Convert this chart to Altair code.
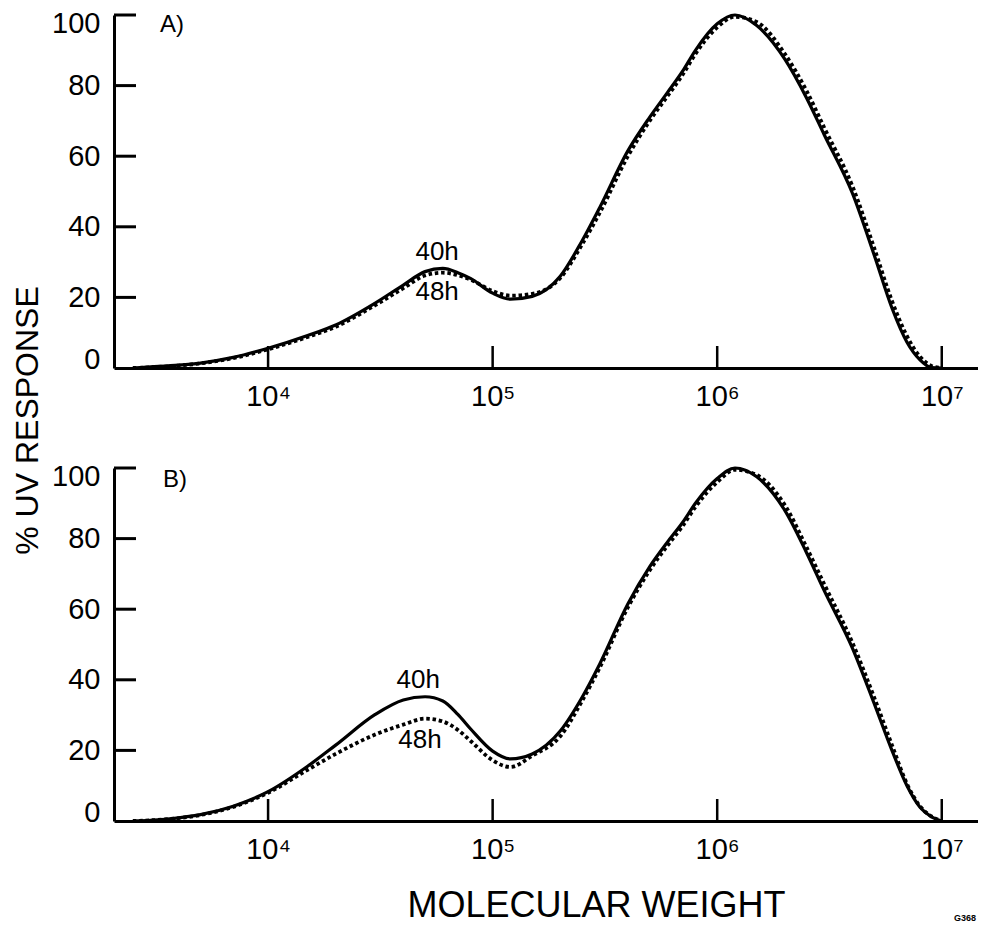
import altair as alt
import pandas as pd

# ---------------- data ----------------
MW = [2500, 3000, 4000, 5000, 7000, 1e4, 1.5e4, 2e4, 3e4, 4e4, 5e4, 6e4, 7e4, 8e4,
      1e5, 1.2e5, 1.5e5, 2e5, 2.5e5, 3e5, 4e5, 5e5, 6e5, 7e5, 8e5,
      1e6, 1.2e6, 1.5e6, 2e6, 2.5e6, 3e6, 4e6, 5e6, 6e6, 7e6, 8e6, 9e6, 1e7]

A_40H = [0, 0.3, 0.8, 1.4, 3.0, 5.6, 9.2, 12.2, 18.4, 23.5, 27.3, 28.2, 27.0, 25.3,
         21.2, 19.5, 20.3, 26.0, 36.0, 45.5, 61.5, 71.0, 78.0, 84.0, 90.0,
         97.5, 100.0, 97.0, 87.5, 76.5, 66.0, 49.5, 32.0, 17.0, 7.3, 2.3, 0.1, 0]
A_48H = [0, 0.2, 0.7, 1.3, 2.8, 5.3, 8.8, 11.7, 17.8, 22.6, 26.2, 27.0, 26.3, 25.0,
         21.8, 20.5, 21.0, 25.5, 35.0, 44.0, 60.0, 70.0, 77.0, 83.0, 89.0,
         96.5, 99.5, 98.0, 89.0, 78.5, 68.0, 51.5, 34.0, 19.0, 9.0, 3.2, 0.6, 0]
B_40H = [0, 0.2, 0.9, 1.8, 4.2, 8.3, 15.5, 21.5, 30.2, 34.3, 35.2, 34.0, 30.2, 26.0,
         19.8, 17.6, 19.0, 25.5, 35.0, 44.5, 61.5, 72.0, 79.0, 84.5, 90.0,
         97.0, 100.0, 97.5, 88.0, 76.0, 65.2, 49.0, 33.3, 20.0, 10.0, 3.9, 1.2, 0]
B_48H = [0, 0.2, 0.8, 1.7, 4.0, 8.0, 14.5, 19.0, 24.5, 27.3, 29.0, 28.2, 25.8, 22.6,
         17.2, 15.3, 18.5, 24.0, 34.0, 43.5, 60.5, 71.0, 78.0, 83.5, 89.0,
         96.0, 99.5, 98.0, 89.5, 77.5, 67.0, 50.5, 35.0, 21.5, 10.5, 4.2, 1.3, 0]

X_TICKS = [1e4, 1e5, 1e6, 1e7]
Y_TICKS = [0, 20, 40, 60, 80, 100]
Y_INNER_TICKS = [20, 40, 60, 80, 100]
X_DOMAIN = [2060, 14500000]

PANEL_LABELS = ["A)", "B)"]
PANEL_LABEL_MW = [3730, 3855]
PANEL_LABEL_Y = [97.2, 96.6]

CURVE_LABELS = ["40h", "48h"]
A_LABEL_MW = [56600, 56600]
A_LABEL_Y = [32.9, 21.5]
B_LABEL_MW = [46600, 47500]
B_LABEL_Y = [40.0, 23.0]

CODE_TEXT = ["G368"]
CODE_MW = [12700000]
CODE_Y = [-27.5]

Y_TITLE = "% UV RESPONSE"
X_TITLE = "MOLECULAR WEIGHT"

# ---------------- styling ----------------
FONT = "Liberation Sans"
W, H = 864, 353
TICK_LEN = 22

LABEL_EXPR = ("datum.value == 10000 ? '10\u2074' : datum.value == 100000 ? '10\u2075' : "
              "datum.value == 1000000 ? '10\u2076' : '10\u2077'")


def x_axis(with_title):
    kw = dict(values=X_TICKS, labelExpr=LABEL_EXPR, ticks=False, grid=False,
              domainColor="black", domainWidth=3, labelFont=FONT, labelFontSize=29,
              labelColor="black", labelPadding=14, labelFlush=False, labelOverlap=False)
    if with_title:
        kw.update(title=X_TITLE, titleFont=FONT, titleFontSize=36, titleFontWeight="normal",
                  titleColor="black", titleX=482, titleY=95, titleAlign="center",
                  titleBaseline="alphabetic")
    else:
        kw.update(title=None)
    return alt.Axis(**kw)


def y_axis(with_title):
    kw = dict(values=Y_TICKS, ticks=False, grid=False, domainColor="black", domainWidth=3,
              labelFont=FONT, labelFontSize=29, labelColor="black", labelPadding=14,
              labelFlush=True, labelFlushOffset=6)
    if with_title:
        kw.update(title=Y_TITLE, titleFont=FONT, titleFontSize=32, titleFontWeight="normal",
                  titleColor="black", titleAngle=270, titleX=-87, titleY=405,
                  titleAlign="center", titleBaseline="middle")
    else:
        kw.update(title=None)
    return alt.Axis(**kw)


def panel(v40, v48, lab_mw, lab_y, idx, top):
    xs = alt.Scale(type="log", domain=X_DOMAIN, nice=False)
    ys = alt.Scale(domain=[0, 100], nice=False, zero=False)
    X = alt.X("mw:Q", scale=xs, axis=x_axis(not top))
    Y = alt.Y("pct:Q", scale=ys, axis=y_axis(top))

    d40 = pd.DataFrame({"mw": MW, "pct": v40})
    d48 = pd.DataFrame({"mw": MW, "pct": v48})

    solid = alt.Chart(d40).mark_line(color="black", strokeWidth=3.2,
                                     interpolate="monotone").encode(x=X, y=Y)
    dotted = alt.Chart(d48).mark_line(color="black", strokeWidth=3.8, strokeDash=[3.5, 2.8],
                                      interpolate="monotone").encode(x=X, y=Y)

    xt = alt.Chart(pd.DataFrame({"mw": X_TICKS})).mark_rule(
        color="black", strokeWidth=2.5).encode(
        x=X, y=alt.value(H), y2=alt.value(H - TICK_LEN))
    yt = alt.Chart(pd.DataFrame({"pct": Y_INNER_TICKS})).mark_rule(
        color="black", strokeWidth=3).encode(
        y=Y, x=alt.value(0), x2=alt.value(TICK_LEN))

    plab = alt.Chart(pd.DataFrame({"mw": [PANEL_LABEL_MW[idx]], "pct": [PANEL_LABEL_Y[idx]],
                                   "t": [PANEL_LABELS[idx]]})).mark_text(
        font=FONT, fontSize=24, color="black", align="center", baseline="middle").encode(
        x=X, y=Y, text="t:N")
    clab = alt.Chart(pd.DataFrame({"mw": lab_mw, "pct": lab_y, "t": CURVE_LABELS})).mark_text(
        font=FONT, fontSize=26, color="black", align="center", baseline="middle").encode(
        x=X, y=Y, text="t:N")

    layers = [solid, dotted, xt, yt, plab, clab]
    if not top:
        code = alt.Chart(pd.DataFrame({"mw": CODE_MW, "pct": CODE_Y, "t": CODE_TEXT})).mark_text(
            font=FONT, fontSize=9, fontWeight="bold", color="black", align="center",
            baseline="middle").encode(x=X, y=Y, text="t:N")
        layers.append(code)
    return alt.layer(*layers).properties(width=W, height=H)


top_panel = panel(A_40H, A_48H, A_LABEL_MW, A_LABEL_Y, 0, True)
bottom_panel = panel(B_40H, B_48H, B_LABEL_MW, B_LABEL_Y, 1, False)

chart = alt.vconcat(top_panel, bottom_panel, spacing=100, bounds="flush").properties(
    padding={"left": 3, "top": 0, "right": 0, "bottom": 0},
    background="white",
).configure_view(stroke=None)

chart.save("out.html", embed_options={"renderer": "svg", "actions": False})
